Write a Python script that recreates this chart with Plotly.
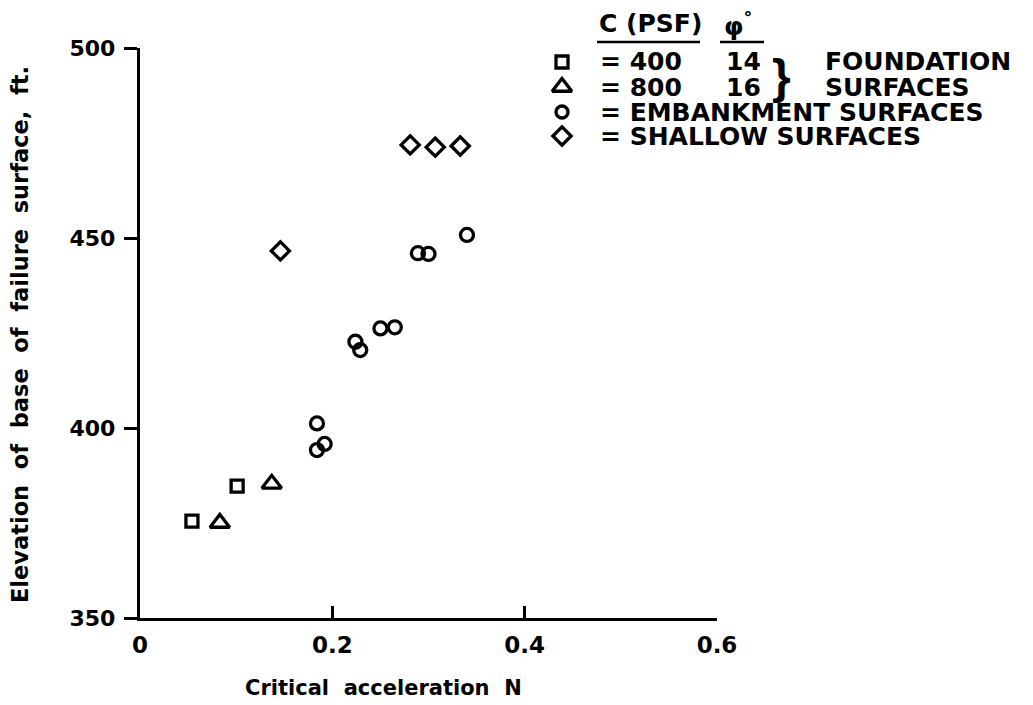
import plotly.graph_objects as go

# ---------------- data ----------------
square_x = [0.054, 0.101]
square_y = [375.5, 384.7]
triangle_x = [0.083, 0.137]
triangle_y = [375.0, 385.3]
circle_x = [0.184, 0.184, 0.192, 0.224, 0.229, 0.250, 0.265, 0.289, 0.300, 0.340]
circle_y = [401.2, 394.2, 395.8, 422.7, 420.5, 426.2, 426.5, 446.0, 445.8, 450.8]
diamond_x = [0.146, 0.281, 0.307, 0.333]
diamond_y = [446.6, 474.5, 473.9, 474.2]

x_ticks = [0, 0.2, 0.4, 0.6]
x_tick_labels = ["0", "0.2", "0.4", "0.6"]
y_ticks = [350, 400, 450, 500]
y_tick_labels = ["350", "400", "450", "500"]

x_title = "Critical\u00a0 acceleration\u00a0 N"
y_title = ("Elevation\u00a0 of\u00a0 base\u00a0 of\u00a0 failure\u00a0 "
           "surface,\u00a0 ft.")

legend_symbols = ["square-open", "triangle-up-open", "circle-open", "diamond-open"]
legend_texts = ["= 400", "= 800", "= EMBANKMENT SURFACES", "= SHALLOW SURFACES"]
phi_values = ["14", "16"]
group_labels = ["FOUNDATION", "SURFACES"]
header_c = "C (PSF)"
header_phi = "φ<sup>°</sup>"

# ---------------- layout geometry ----------------
# the page body adds an 8px margin, so the figure is made 8px smaller
# and all screen positions below are for the photographed page
OFF = 8
SW, SH = 1033, 705
W, H = SW - OFF, SH - OFF
PL, PT, PR, PB = 140, 48, 717, 618          # plot area on screen
L, T = PL - OFF, PT - OFF
R, B = W - (PR - OFF), H - (PB - OFF)
PW, PH = PR - PL, PB - PT

def px(xs):
    return (xs - PL) / PW

def py(ys):
    return (PB - ys) / PH

FONT = "DejaVu Sans"
INK = "black"
LW = 3.3

fig = go.Figure()

marker_common = dict(color=INK, line=dict(color=INK, width=LW))
fig.add_trace(go.Scatter(x=square_x, y=square_y, mode="markers",
                         marker=dict(symbol="square-open", size=12, **marker_common),
                         showlegend=False, cliponaxis=False))
fig.add_trace(go.Scatter(x=triangle_x, y=triangle_y, mode="markers",
                         marker=dict(symbol="triangle-up-open", size=17, **marker_common),
                         showlegend=False, cliponaxis=False))
fig.add_trace(go.Scatter(x=circle_x, y=circle_y, mode="markers",
                         marker=dict(symbol="circle-open", size=13, **marker_common),
                         showlegend=False, cliponaxis=False))
fig.add_trace(go.Scatter(x=diamond_x, y=diamond_y, mode="markers",
                         marker=dict(symbol="diamond-open", size=14, **marker_common),
                         showlegend=False, cliponaxis=False))

# legend key markers on an overlay axis in screen-pixel units
row_y = [62, 87, 112, 136]
sym_x = 562
sym_sizes = [12, 17, 12, 14]
for s, yy, sz in zip(legend_symbols, row_y, sym_sizes):
    fig.add_trace(go.Scatter(x=[sym_x], y=[yy], mode="markers", xaxis="x2", yaxis="y2",
                             marker=dict(symbol=s, size=sz, **marker_common),
                             showlegend=False, cliponaxis=False))

fig.update_layout(
    width=W, height=H,
    margin=dict(l=L, r=R, t=T, b=B, pad=0),
    paper_bgcolor="white", plot_bgcolor="white",
    font=dict(family=FONT, color=INK, size=22, weight="bold"),
    xaxis=dict(range=[0, 0.6], tickvals=x_ticks, ticktext=x_tick_labels,
               showgrid=False, zeroline=False, showline=True, linecolor=INK, linewidth=2.6,
               ticks="inside", ticklen=12, tickwidth=2.6, tickcolor=INK,
               ticklabelstandoff=5,
               tickfont=dict(family=FONT, size=23, color=INK, weight="bold")),
    yaxis=dict(range=[350, 500], tickvals=y_ticks, ticktext=y_tick_labels,
               showgrid=False, zeroline=False, showline=True, linecolor=INK, linewidth=3.4,
               ticks="outside", ticklen=13, tickwidth=2.6, tickcolor=INK,
               ticklabelstandoff=4,
               tickfont=dict(family=FONT, size=22, color=INK, weight="bold")),
    xaxis2=dict(range=[PL, PR], overlaying="x", visible=False, anchor="y2"),
    yaxis2=dict(range=[PB, PT], overlaying="y", visible=False, anchor="x2"),
)

ann = []
# axis titles
ann.append(dict(text=x_title, x=px(383), y=py(688), xref="paper", yref="paper",
                showarrow=False, xanchor="center", yanchor="middle",
                font=dict(family=FONT, size=21, color=INK, weight="bold")))
ann.append(dict(text=y_title, x=px(20), y=py(335), xref="paper", yref="paper",
                showarrow=False, xanchor="center", yanchor="middle", textangle=-90,
                font=dict(family=FONT, size=22.5, color=INK, weight="bold")))

lf = dict(family=FONT, size=25, color=INK, weight="bold")
# header
ann.append(dict(text=header_c, x=px(597), y=py(23), xref="paper", yref="paper",
                showarrow=False, xanchor="left", yanchor="middle", font=lf))
ann.append(dict(text=header_phi, x=px(722), y=py(24), xref="paper", yref="paper",
                showarrow=False, xanchor="left", yanchor="middle", font=lf))
# rows
for t, yy in zip(legend_texts, row_y):
    ann.append(dict(text=t, x=px(598), y=py(yy), xref="paper", yref="paper",
                    showarrow=False, xanchor="left", yanchor="middle", font=lf))
for t, yy in zip(phi_values, row_y[:2]):
    ann.append(dict(text=t, x=px(763), y=py(yy), xref="paper", yref="paper",
                    showarrow=False, xanchor="right", yanchor="middle", font=lf))
# brace
ann.append(dict(text="}", x=px(781), y=py(76), xref="paper", yref="paper",
                showarrow=False, xanchor="center", yanchor="middle",
                font=dict(family="Liberation Sans", size=48, color=INK)))
for t, yy in zip(group_labels, row_y[:2]):
    ann.append(dict(text=t, x=px(823), y=py(yy), xref="paper", yref="paper",
                    showarrow=False, xanchor="left", yanchor="middle", font=lf))
fig.update_layout(annotations=ann)

# header underlines
for x0, x1 in [(597, 700), (720, 764)]:
    fig.add_shape(type="line", xref="paper", yref="paper",
                  x0=px(x0), x1=px(x1), y0=py(42), y1=py(42),
                  line=dict(color=INK, width=2.6))

fig.write_html("out.html")
